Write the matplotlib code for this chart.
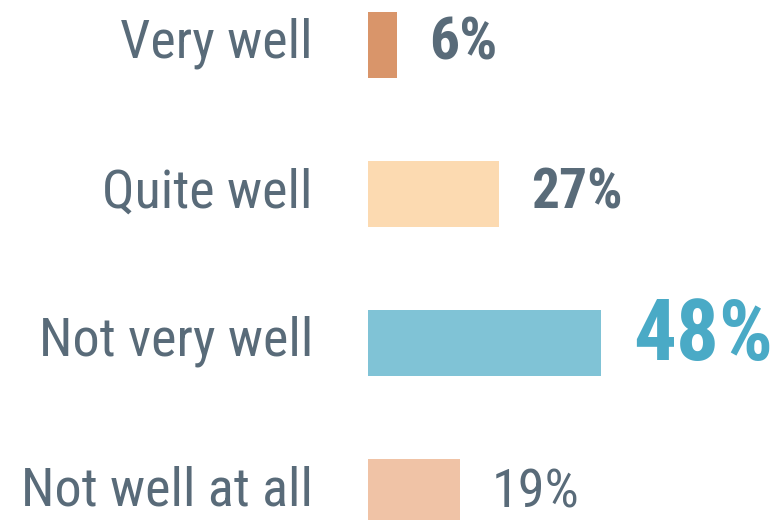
import matplotlib
matplotlib.use("Agg")
import matplotlib.pyplot as plt
from matplotlib import font_manager

categories = ["Very well", "Quite well", "Not very well", "Not well at all"]
values = [6, 27, 48, 19]
value_labels = ["6%", "27%", "48%", "19%"]
bar_colors = ["#d9956a", "#fcdab1", "#80c3d6", "#f0c3a6"]
label_colors = ["#596b79", "#596b79", "#4aaac6", "#596b79"]
label_weights = ["bold", "bold", "bold", "normal"]
label_sizes = [43, 40, 61, 39]
label_dy = [1.0, 0.5, 5.0, -1.0]

names = {f.name for f in font_manager.fontManager.ttflist}
fam = None
for cand in ["Roboto Condensed", "Liberation Sans Narrow", "DejaVu Sans Condensed", "Liberation Sans"]:
    if cand in names:
        fam = cand
        break
plt.rcParams["font.family"] = [fam, "DejaVu Sans"]

W, H = 778, 520
fig = plt.figure(figsize=(W / 100, H / 100), dpi=100)
ax = fig.add_axes([368 / W, 0, 1 - 368 / W, 1])
ypos = list(range(len(categories)))
ax.barh(ypos, values, height=0.443, color=bar_colors)
ax.set_ylim(3.188, -0.302)
ax.set_xlim(0, 84.5)
ax.set_yticks([])
ax.set_xticks([])
for s in ax.spines.values():
    s.set_visible(False)
for i, c in enumerate(categories):
    ax.annotate(c, (0, i), xytext=(-39.6, 1.0), textcoords="offset points",
                va="center", ha="right", fontsize=39, color="#596b79",
                annotation_clip=False)
for i, v in enumerate(values):
    ax.annotate(value_labels[i], (v, i), xytext=(23, label_dy[i]), textcoords="offset points",
                va="center", ha="left", fontsize=label_sizes[i],
                fontweight=label_weights[i], color=label_colors[i])
fig.savefig("out.png", dpi=100)
